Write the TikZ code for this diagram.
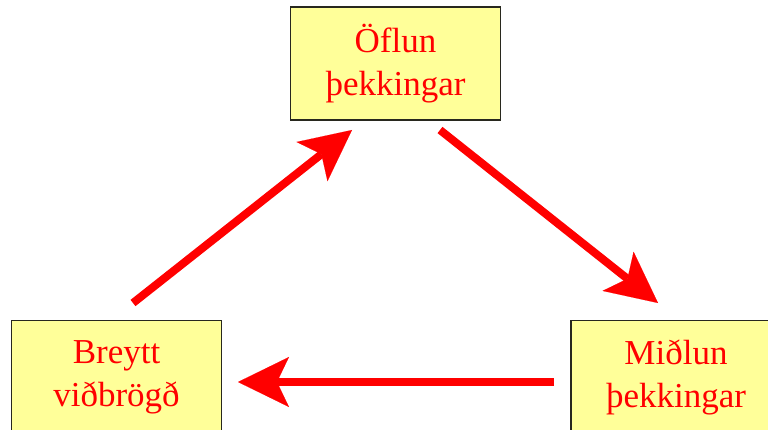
\documentclass[tikz,border=0pt]{standalone}
\usepackage{fontspec}
\setmainfont{Liberation Serif}
\usetikzlibrary{arrows.meta}
\definecolor{boxfill}{RGB}{255,255,153}
\definecolor{boxline}{RGB}{40,40,30}
\begin{document}
\begin{tikzpicture}[x=1pt,y=-1pt,
  box/.style={draw=boxline, line width=1.2pt, fill=boxfill, minimum width=210pt,
    minimum height=113pt, align=center, text=red, inner sep=0pt,
    font=\fontsize{35}{43}\selectfont},
  flow/.style={draw=red, line width=8pt,
    -{Stealth[length=51pt,width=50pt,inset=12pt,line width=0.1pt]}}]
\clip (0,0) rectangle (768,430);
\node[box] (top) at (395.5,63.5) {Öflun\\þekkingar};
\node[box] (bl) at (116.5,377) {Breytt\\viðbrögð};
\node[box] (br) at (676,377) {Miðlun\\þekkingar};
\coordinate (a1s) at (133,303);
\coordinate (a1e) at (352,130);
\coordinate (a2s) at (440,130);
\coordinate (a2e) at (658,303);
\coordinate (a3s) at (554,382);
\coordinate (a3e) at (238,382);
\draw[flow] (a1s) -- (a1e);
\draw[flow] (a2s) -- (a2e);
\draw[flow] (a3s) -- (a3e);
\end{tikzpicture}
\end{document}
